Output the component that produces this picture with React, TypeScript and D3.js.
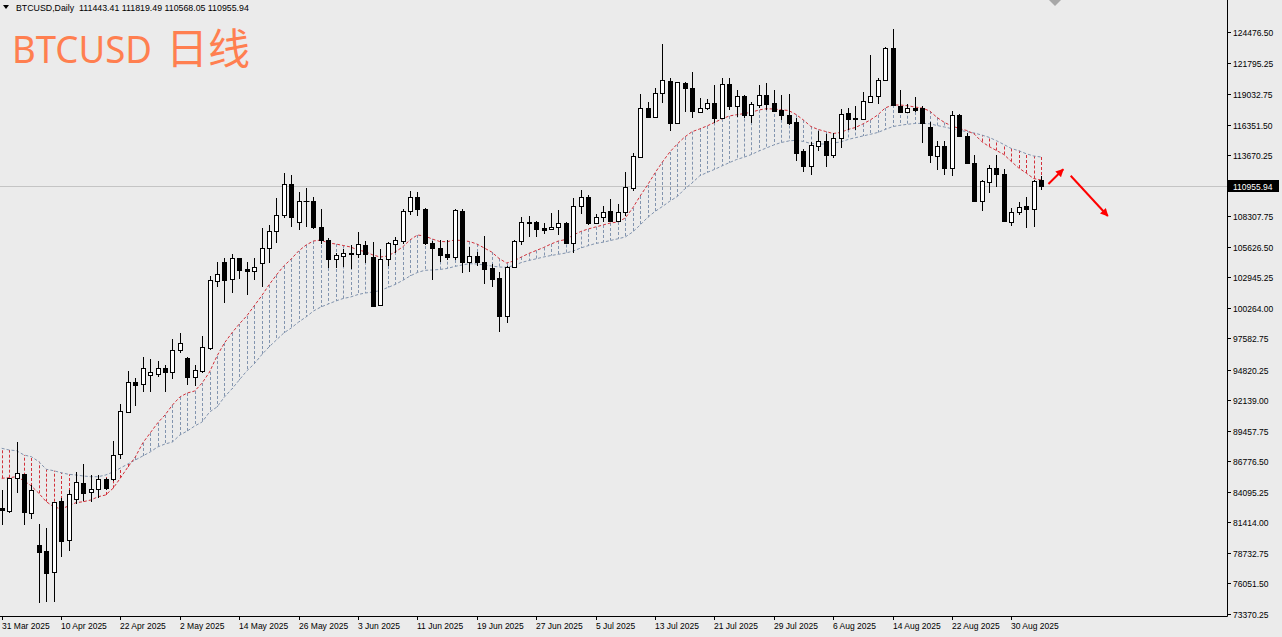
import React from 'react';
import * as d3 from 'd3';

const openP = [
  82679, 82442, 85287, 85638, 82266, 79430, 78929, 77086, 83320, 79869,
  83469, 84901, 84058, 84374, 85199, 85199, 87394, 91135, 93769, 93541,
  94331, 94472, 94946, 94647, 96553, 95824, 94208, 94735, 96702, 102638,
  104306, 102761, 104605, 103692, 103490, 104166, 105536, 107002, 108407, 111129,
  107766, 109663, 109663, 107380, 106212, 104570, 104807, 105027, 104983, 105773,
  104746, 100478, 104517, 105834, 106124, 108785, 110014, 108934, 105975, 105483,
  104983, 104746, 108785, 104306, 104833, 104306, 103727, 102849, 99539, 103815,
  106150, 107705, 107793, 107239, 107178, 107380, 107678, 105922, 109198, 110014,
  107731, 108205, 108785, 107907, 108644, 110778, 113526, 117777, 117039, 119094,
  120200, 116459, 120025, 119533, 117478, 117777, 118268, 116951, 119884, 117979,
  118857, 117188, 118066, 118944, 118216, 117627, 117188, 116547, 114027, 112736,
  114466, 114879, 113676, 115142, 117338, 116925, 116811, 118356, 118883, 120262,
  123045, 117979, 117425, 117829, 117777, 116161, 113614, 114492, 112508, 117188,
  115370, 112999, 109663, 111331, 112508, 112007, 107819, 108697, 109198, 108908,
  111443.41,
];
const highP = [
  84260, 85340, 88501, 85664, 84698, 81248, 80896, 83206, 83531, 84260,
  85866, 86516, 85577, 85577, 85313, 88562, 91811, 94709, 94068, 95912,
  95763, 95587, 95262, 97519, 98019, 95938, 95236, 97782, 103051, 104306,
  104631, 104956, 104658, 104306, 104605, 107239, 107529, 109874, 112069, 111920,
  110453, 110804, 109988, 108908, 106361, 105044, 105395, 105773, 106941, 106124,
  106063, 105422, 106063, 106449, 108908, 110515, 110453, 109022, 106124, 106212,
  106212, 108908, 108908, 105571, 105185, 106563, 104078, 103428, 103929, 106212,
  108258, 108319, 107907, 107678, 108609, 108846, 107749, 109874, 110602, 110163,
  108495, 109198, 109812, 109373, 112157, 113877, 119006, 118303, 119533, 123423,
  120411, 120112, 120112, 120938, 118655, 118567, 119823, 120411, 120411, 119384,
  118944, 118356, 119823, 120025, 119384, 118944, 119032, 116951, 114176, 114844,
  115783, 115493, 115581, 117689, 117777, 117979, 119234, 122457, 120411, 123186,
  124714, 119384, 118128, 118743, 117979, 116600, 114931, 114931, 117540, 117250,
  115581, 113676, 111481, 112797, 113676, 112446, 108996, 109575, 109961, 111481,
  111819.49,
];
const lowP = [
  81186, 82240, 83970, 81186, 81687, 74363, 74451, 74451, 78403, 78929,
  83030, 83320, 83180, 83531, 84260, 85050, 86955, 91109, 91662, 92891,
  92839, 94208, 92891, 93980, 96263, 93480, 93392, 94507, 96553, 102059,
  100706, 101558, 102761, 101383, 102700, 102111, 104166, 105975, 108144, 107380,
  107090, 107380, 107178, 105861, 103727, 103727, 103868, 103639, 104605, 104166,
  100355, 100417, 103929, 105044, 105861, 108407, 108319, 105773, 102700, 104306,
  104456, 104456, 103288, 103428, 103929, 102322, 102111, 98160, 98950, 103753,
  105773, 106502, 106449, 106739, 107090, 106651, 105905, 105044, 108495, 107529,
  107617, 107819, 107793, 107836, 108346, 110541, 113456, 116898, 116969, 118268,
  115783, 116398, 117478, 116898, 117408, 117627, 116459, 116881, 117627, 117039,
  116925, 116459, 117803, 117627, 117452, 116749, 116310, 113175, 112183, 111920,
  114053, 112648, 113412, 114264, 115871, 115871, 116749, 118330, 118128, 120174,
  117979, 117364, 117364, 117452, 114756, 112947, 112358, 111920, 111832, 115256,
  112885, 109549, 108759, 110365, 110840, 107793, 107468, 108407, 107292, 107380,
  110568.05,
];
const closeP = [
  82503, 85287, 85726, 82354, 84260, 78842, 76998, 83180, 79808, 83908,
  84936, 84022, 84321, 85199, 84409, 87333, 91223, 93743, 93506, 94999,
  94595, 94946, 94647, 96553, 97141, 94208, 94797, 96790, 102700, 103226,
  102700, 104605, 103578, 103490, 103815, 105536, 107002, 108407, 111129, 108258,
  109663, 109645, 107380, 106212, 104544, 104868, 105044, 104939, 105834, 104983,
  100417, 104544, 105975, 106212, 108785, 110014, 108908, 105975, 105483, 104895,
  104746, 108846, 104306, 104833, 104254, 103666, 102761, 99539, 103815, 106150,
  107766, 107793, 107152, 107090, 107380, 107678, 105975, 109198, 110014, 107731,
  108205, 108697, 107880, 108697, 110840, 113588, 117777, 117039, 119146, 120262,
  116459, 120060, 119533, 117540, 117777, 118216, 116951, 119884, 117979, 118857,
  117188, 118128, 118944, 118128, 117566, 117188, 116459, 113877, 112736, 114554,
  114879, 113676, 115142, 117250, 116837, 116863, 118418, 118883, 120262, 123045,
  118066, 117425, 117777, 117627, 116459, 113676, 114466, 112508, 117188, 115344,
  112947, 109663, 111393, 112508, 112007, 107880, 108644, 109136, 108908, 111419,
  110955.94,
];
const spanRed = [
  85287, 85340, 85427, 85076, 84611, 83970, 83232, 82793, 82591, 82855,
  83144, 83232, 83381, 83671, 83820, 84409, 85313, 86279, 87157, 88387,
  89265, 90143, 90845, 91723, 92426, 92777, 92953, 93655, 94621, 96026,
  97168, 98046, 98836, 99538, 100417, 101295, 102261, 103139, 103929, 104544,
  105246, 105773, 106124, 106212, 105949, 105861, 105729, 105597, 105334, 105185,
  104895, 104719, 104807, 105158, 105597, 106212, 106651, 106563, 106300, 106080,
  106063, 106212, 106168, 106080, 105861, 105510, 105158, 104588, 104192, 104368,
  104719, 105027, 105290, 105553, 105861, 106124, 106256, 106651, 106958, 107178,
  107354, 107529, 107705, 107793, 108144, 109022, 110076, 111042, 112095, 113061,
  113939, 114642, 115256, 115722, 115959, 116222, 116530, 116837, 117100, 117215,
  117311, 117434, 117627, 117741, 117715, 117645, 117583, 117232, 116749, 116178,
  115915, 115739, 115564, 115652, 115915, 116091, 116398, 116749, 117188, 117803,
  118066, 118066, 118005, 117891, 117803, 117540, 116969, 116530, 116222, 116003,
  115827, 115520, 114861, 114422, 114071, 113720, 113105, 112534, 112095, 111612,
  111481,
];
const spanGray = [
  87921, 87772, 87710, 87333, 87184, 86745, 86077, 85954, 85779, 85638,
  85577, 85489, 85427, 85427, 85577, 85840, 86191, 86543, 86894, 87245,
  87596, 88035, 88299, 88474, 89089, 89440, 89879, 90231, 91109, 91548,
  92426, 93128, 93919, 94709, 95324, 96114, 96816, 97431, 98046, 98485,
  99012, 99451, 99978, 100329, 100592, 100856, 101075, 101207, 101426, 101558,
  101646, 101778, 102041, 102305, 102656, 103051, 103358, 103551, 103578, 103622,
  103709, 103885, 104017, 104131, 104105, 104017, 103929, 103841, 103815, 103973,
  104236, 104412, 104561, 104719, 104851, 104956, 105071, 105246, 105510, 105712,
  105905, 106019, 106168, 106317, 106475, 106915, 107529, 108188, 108715, 109154,
  109619, 110032, 110690, 111217, 111832, 112139, 112403, 112710, 112999, 113280,
  113483, 113720, 114027, 114290, 114554, 114773, 114905, 114975, 114861, 114686,
  114642, 114642, 114730, 114817, 115037, 115195, 115344, 115493, 115652, 115915,
  116161, 116284, 116372, 116442, 116459, 116416, 116266, 116135, 115985, 115854,
  115722, 115608, 115432, 115230, 114931, 114598, 114247, 114053, 113790, 113588,
  113500,
];
const priceTicks = [
  124476.5, 121795.25, 119032.75, 116351.5, 113670.25, 108307.75, 105626.5,
  102945.25, 100264, 97582.75, 94820.25, 92139, 89457.75, 86776.5, 84095.25,
  81414, 78732.75, 76051.5, 73370.25,
];
const dateLabels = [
  '31 Mar 2025', '10 Apr 2025', '22 Apr 2025', '2 May 2025', '14 May 2025',
  '26 May 2025', '3 Jun 2025', '11 Jun 2025', '19 Jun 2025', '27 Jun 2025',
  '5 Jul 2025', '13 Jul 2025', '21 Jul 2025', '29 Jul 2025', '6 Aug 2025',
  '14 Aug 2025', '22 Aug 2025', '30 Aug 2025',
];
const dateLabelBars = [0, 8, 16, 24, 32, 40, 48, 56, 64, 72, 80, 88, 96, 104, 112, 120, 128, 136];
const lastPrice = 110955.94;
const headerText = 'BTCUSD,Daily  111443.41 111819.49 110568.05 110955.94';
const arrowStartBar = [141.0, 144.0];
const arrowStartPrice = [111129, 111858];
const arrowEndBar = [143.0, 149.0];
const arrowEndPrice = [112420, 108319];

const BG = '#EBEBEB';
const RED = '#D2303A';
const GRAY = '#8294AE';
const FONT = '"Liberation Sans", Arial, sans-serif';

export default function App() {
  const n = openP.length;
  const x = d3.scaleLinear().domain([0, 140]).range([1.7, 1041]);
  const y = d3.scaleLinear().domain([73370.25, 124476.5]).range([614, 32]);
  const plotRight = 1227;
  const plotBottom = 616;
  const idx = d3.range(n);

  const lineGen = d3
    .line<number>()
    .x((_, i) => x(i))
    .y((d) => y(d));

  const px = (i: number) => Math.round(x(i)) + 0.5;

  return (
    <svg
      width={1282}
      height={637}
      style={{ position: 'absolute', left: 0, top: 0, display: 'block' }}
      xmlns="http://www.w3.org/2000/svg"
    >
      <defs>
        <clipPath id="plotclip">
          <rect x={0} y={0} width={plotRight} height={plotBottom} />
        </clipPath>
        <marker id="arrowhead" viewBox="0 0 10 10" refX={9} refY={5} markerWidth={9} markerHeight={8}
          markerUnits="userSpaceOnUse" orient="auto">
          <path d="M0,0 L10,5 L0,10 Z" fill="#FF0000" />
        </marker>
      </defs>
      <rect x={0} y={0} width={1282} height={637} fill={BG} />

      <g clipPath="url(#plotclip)">
        <line x1={0} x2={plotRight} y1={Math.round(y(lastPrice)) + 0.5} y2={Math.round(y(lastPrice)) + 0.5}
          stroke="#C4C4C4" strokeWidth={1} />

        {idx.map((i) => {
          const a = y(spanRed[i]);
          const b = y(spanGray[i]);
          const col = spanGray[i] > spanRed[i] ? RED : GRAY;
          return (
            <line key={'h' + i} x1={px(i)} x2={px(i)} y1={a} y2={b} stroke={col}
              strokeWidth={1} strokeDasharray="3,2" />
          );
        })}
        <path d={lineGen(spanGray) || ''} fill="none" stroke={GRAY} strokeWidth={1} strokeDasharray="3,2" />
        <path d={lineGen(spanRed) || ''} fill="none" stroke={RED} strokeWidth={1} strokeDasharray="3,2" />

        {idx.map((i) => {
          const cx = px(i);
          const o = openP[i];
          const c = closeP[i];
          const yTop = Math.round(y(Math.max(o, c)));
          const yBot = Math.round(y(Math.min(o, c)));
          const bull = c >= o;
          return (
            <g key={'c' + i}>
              <line x1={cx} x2={cx} y1={Math.round(y(highP[i]))} y2={Math.round(y(lowP[i]))}
                stroke="#000" strokeWidth={1} />
              {yBot - yTop < 1 ? (
                <line x1={cx - 3} x2={cx + 3} y1={yTop + 0.5} y2={yTop + 0.5} stroke="#000" strokeWidth={1} />
              ) : (
                <rect x={cx - 2} y={yTop + 0.5} width={4} height={yBot - yTop}
                  fill={bull ? '#FFFFFF' : '#000000'} stroke="#000" strokeWidth={1} />
              )}
            </g>
          );
        })}

        {arrowStartBar.map((b, k) => (
          <line key={'a' + k} x1={x(b)} y1={y(arrowStartPrice[k])} x2={x(arrowEndBar[k])} y2={y(arrowEndPrice[k])}
            stroke="#FF0000" strokeWidth={2} markerEnd="url(#arrowhead)" />
        ))}
      </g>

      <path d="M1049,0 L1061,0 L1055,6 Z" fill="#A8A8A8" />

      <line x1={plotRight + 0.5} x2={plotRight + 0.5} y1={0} y2={plotBottom + 0.5} stroke="#000" strokeWidth={1} />
      <line x1={0} x2={plotRight + 0.5} y1={plotBottom + 0.5} y2={plotBottom + 0.5} stroke="#000" strokeWidth={1} />

      {priceTicks.map((p) => {
        const yy = Math.round(y(p)) + 0.5;
        return (
          <g key={'pt' + p}>
            <line x1={plotRight} x2={plotRight + 4} y1={yy} y2={yy} stroke="#000" strokeWidth={1} />
            <text x={plotRight + 6} y={yy + 3} fontFamily={FONT} fontSize={8.5} fill="#000">
              {p.toFixed(2)}
            </text>
          </g>
        );
      })}

      <g>
        <rect x={plotRight + 1} y={Math.round(y(lastPrice)) - 6} width={51} height={12} fill="#000" />
        <text x={plotRight + 6} y={Math.round(y(lastPrice)) + 3.5} fontFamily={FONT} fontSize={8.5} fill="#FFF">
          {lastPrice.toFixed(2)}
        </text>
      </g>

      {dateLabels.map((t, k) => {
        const xx = Math.round(x(dateLabelBars[k])) + 0.5;
        return (
          <g key={'d' + k}>
            <line x1={xx} x2={xx} y1={plotBottom} y2={plotBottom + 4} stroke="#000" strokeWidth={1} />
            <text x={xx - 0.5} y={629} fontFamily={FONT} fontSize={8.5} fill="#000">
              {t}
            </text>
          </g>
        );
      })}

      <path d="M3,5 L9,5 L6,9 Z" fill="#000" />
      <text x={16} y={11} fontFamily={FONT} fontSize={8.8} fill="#000" style={{ whiteSpace: 'pre' }}>
        {headerText}
      </text>

      <text x={12} y={63} fontFamily='"Noto Sans", "Liberation Sans", sans-serif' fontSize={39} fill="#FF7F50"
        textLength={140} lengthAdjust="spacingAndGlyphs">
        BTCUSD
      </text>
      <text x={166} y={64} fontFamily='"Noto Sans CJK SC", sans-serif' fontSize={42} fill="#FF7F50">
        日线
      </text>
    </svg>
  );
}
